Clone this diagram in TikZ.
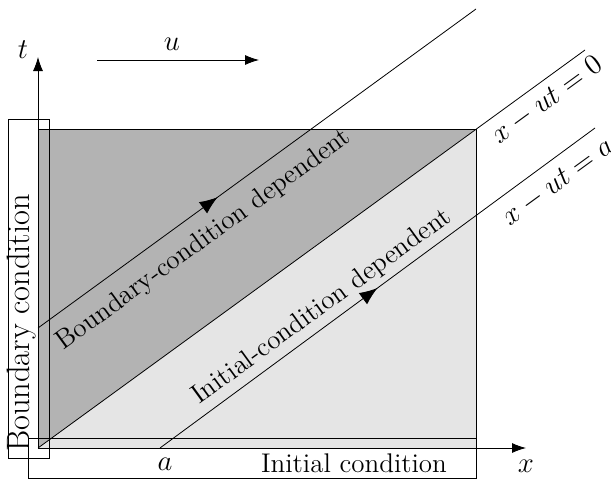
\documentclass[tikz,border=0pt]{standalone}
\usepackage{amsmath}
\usepackage{tikz}
\usetikzlibrary{arrows.meta,decorations.markings}
\definecolor{darkregion}{RGB}{179,179,179}
\definecolor{lightregion}{RGB}{229,229,229}
\tikzset{
  axis/.style={thin, -{Latex[length=7pt,width=5pt]}},
  labelbox/.style={draw, thin, inner sep=0pt},
  charline/.style={thin},
  midarrow/.style={postaction={decorate}, decoration={markings,
    mark=at position #1 with {\arrow{Latex[length=9pt,width=7pt]}}}},
  lbl/.style={font=\fontsize{13.5}{16}\selectfont},
  biglbl/.style={font=\fontsize{16.2}{19}\selectfont},
  mathlbl/.style={font=\fontsize{15}{18}\selectfont}
}
\begin{document}
\begin{tikzpicture}[x=0.5pt, y=-0.5pt]
\useasboundingbox (0,0) rectangle (611,482);
% regions
\fill[lightregion] (38,129) rectangle (476,448);
\fill[darkregion] (38,129) -- (476,129) -- (38,448) -- cycle;
\draw[thin] (38,129) rectangle (476,448);

\coordinate (o) at (38,448);
\coordinate (a) at (160,448);
\coordinate (bc) at (38,328);
% characteristics
\draw[charline] (o) -- (585,50) coordinate (oend);
\draw[charline, midarrow=0.5] (a) -- (595,128) coordinate (aend);
\draw[charline, midarrow=0.41] (bc) -- (476,9) coordinate (bcend);

% axes
\draw[axis] (38,448) -- (38,57) coordinate (ttip);
\draw[axis] (38,448) -- (526,448) coordinate (xtip);
\node[mathlbl] (tlab) at (23,50) {$t$};
\node[mathlbl] (xlab) at (526,466) {$x$};
\node[mathlbl] (alab) at (165,464) {$a$};

% velocity
\coordinate (ustart) at (97,60);
\coordinate (uend) at (259,60);
\draw[axis] (ustart) -- (uend);
\node[mathlbl] (ulab) at (172,44) {$u$};

% boxes
\node[labelbox, minimum width=224pt, minimum height=20pt, anchor=north west] (icbox) at (28,438) {};
\node[lbl] (iclab) at (354,463) {Initial condition};
\node[labelbox, minimum width=20.5pt, minimum height=169.5pt, anchor=north west] (bcbox) at (8,119) {};
\node[biglbl, rotate=90] (bclab) at (22,323) {Boundary condition};

% region labels
\node[lbl, rotate=36.07] (bcdep) at (204,240) {Boundary-condition dependent};
\node[lbl, rotate=36.07] (icdep) at (322,307) {Initial-condition dependent};
\node[mathlbl, rotate=36.07] (eq0) at (547,100) {$x-ut=0$};
\node[mathlbl, rotate=36.07] (eqa) at (558,182) {$x-ut=a$};
\end{tikzpicture}
\end{document}
